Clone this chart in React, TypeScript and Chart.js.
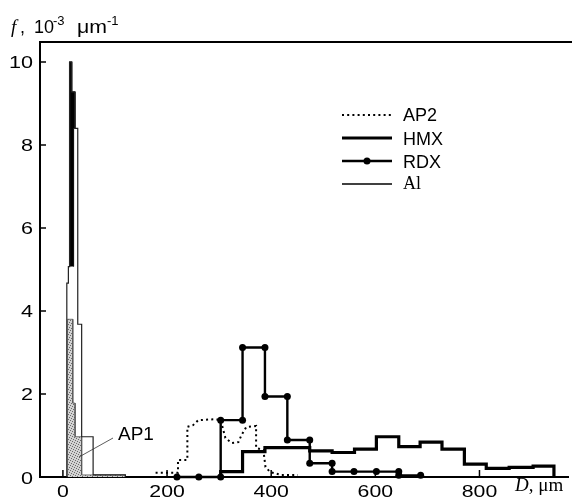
import React, { useEffect, useRef } from "react";
import { Chart, registerables } from "chart.js";

Chart.register(...registerables);

// Tick labels
const xTicks = [0, 200, 400, 600, 800];
const yTicks = [0, 2, 4, 6, 8, 10];

// Legend labels
const legendLabels = ["AP2", "HMX", "RDX", "Al"];

// AP1 (shaded histogram, fine fraction)
const ap1D = [8.5, 8.5, 19, 19, 23.4, 23.4, 36, 36, 120, 120];
const ap1F = [0, 3.8, 3.8, 1.78, 1.78, 0.97, 0.97, 0.05, 0.05, 0];

// Al (thin line histogram)
const alD = [7.5, 7.5, 10.5, 10.5, 13, 13, 17, 17, 23, 23, 28.5, 28.5, 36, 36, 58, 58, 120, 120];
const alF = [0, 4.67, 4.67, 5.07, 5.07, 10, 10, 9.28, 9.28, 8.4, 8.4, 3.68, 3.68, 0.97, 0.97, 0.05, 0.05, 0];

// HMX fine fraction (solid black block)
const hmxFineD = [12.5, 12.5, 17, 17, 23.4, 23.4, 20.5, 20.5];
const hmxFineF = [5.07, 10, 10, 9.28, 9.28, 8.4, 8.4, 5.07];

// HMX coarse fraction (thick line)
const hmxD = [303, 303, 345, 345, 388, 388, 474, 474, 517, 517, 560, 560, 602, 602, 645, 645, 686, 686, 728, 728, 771, 771, 813, 813, 857, 857, 903, 903, 943, 943];
const hmxF = [0, 0.13, 0.13, 0.61, 0.61, 0.71, 0.71, 0.63, 0.63, 0.59, 0.59, 0.67, 0.67, 0.97, 0.97, 0.73, 0.73, 0.84, 0.84, 0.67, 0.67, 0.31, 0.31, 0.21, 0.21, 0.23, 0.23, 0.26, 0.26, 0];

// RDX (line with markers)
const rdxD = [219, 261, 303, 303, 345, 345, 388, 388, 431, 431, 474, 474, 517, 517, 559, 602, 645, 645, 687];
const rdxF = [0, 0, 0, 1.37, 1.37, 3.12, 3.12, 1.94, 1.94, 0.89, 0.89, 0.33, 0.33, 0.13, 0.13, 0.13, 0.13, 0.04, 0.04];

// AP2 (dotted)
const ap2D = [178, 221, 221, 239, 239, 250, 260, 290, 303, 312, 324, 337, 343, 352, 371, 371, 385, 389, 398, 419, 451];
const ap2F = [0.1, 0.1, 0.41, 0.41, 1.21, 1.25, 1.37, 1.39, 1.37, 0.94, 0.82, 0.84, 1.01, 1.2, 1.23, 0.7, 0.65, 0.24, 0.12, 0.05, 0.05];

const pts = (d: number[], f: number[]) => d.map((v, i) => ({ x: v, y: f[i] }));

const SANS = '"Liberation Sans", Arial, sans-serif';
const SERIF = '"Liberation Serif", "Times New Roman", serif';

function makePattern(): CanvasPattern | string {
  const c = document.createElement("canvas");
  c.width = 5;
  c.height = 5;
  const g = c.getContext("2d");
  if (!g) return "#bbbbbb";
  g.fillStyle = "#d2d2d2";
  g.fillRect(0, 0, 5, 5);
  g.fillStyle = "#6a6a6a";
  [[0, 0], [2, 1], [4, 2], [1, 3], [3, 4]].forEach(([a, b]) => g.fillRect(a, b, 1, 1));
  const p = g.createPattern(c, "repeat");
  return p || "#bbbbbb";
}

function wideText(ctx: CanvasRenderingContext2D, s: string, x: number, y: number, align: CanvasTextAlign, sx: number) {
  ctx.save();
  ctx.translate(x, y);
  ctx.scale(sx, 1);
  ctx.textAlign = align;
  ctx.fillText(s, 0, 0);
  ctx.restore();
}

const decor = {
  id: "decor",
  afterDraw(chart: any) {
    const { ctx, chartArea, scales } = chart;
    const { left, top, bottom } = chartArea;
    const x = scales.x;
    const y = scales.y;
    ctx.save();
    ctx.strokeStyle = "#000";
    ctx.fillStyle = "#000";
    // top frame line
    ctx.lineWidth = 2;
    ctx.beginPath();
    ctx.moveTo(left - 1, top);
    ctx.lineTo(chart.width, top);
    ctx.stroke();
    // inward ticks
    ctx.lineWidth = 1.5;
    ctx.beginPath();
    yTicks.forEach((v) => {
      const py = y.getPixelForValue(v);
      ctx.moveTo(left, py);
      ctx.lineTo(left + 6, py);
    });
    xTicks.forEach((v) => {
      const px = x.getPixelForValue(v);
      ctx.moveTo(px, bottom);
      ctx.lineTo(px, bottom - 7);
    });
    ctx.stroke();

    // tick labels
    ctx.textBaseline = "alphabetic";
    ctx.font = "17px " + SANS;
    yTicks.forEach((v) => {
      const py = y.getPixelForValue(v);
      wideText(ctx, String(v), 33, py + 6.5, "right", 1.27);
    });
    xTicks.forEach((v) => {
      const px = x.getPixelForValue(v);
      wideText(ctx, String(v), px, 497, "center", 1.25);
    });

    // y title: f, 10^-3 μm^-1
    ctx.textAlign = "left";
    ctx.font = "italic 19px " + SERIF;
    ctx.fillText("f", 11, 33);
    ctx.font = "18px " + SANS;
    ctx.fillText(",", 20, 33);
    ctx.fillText("10", 34, 33);
    ctx.font = "13px " + SANS;
    ctx.fillText("-3", 53, 25);
    ctx.font = "19px " + SANS;
    wideText(ctx, "\u03bcm", 77, 33, "left", 1.12);
    ctx.font = "13px " + SANS;
    ctx.fillText("-1", 107, 25);

    // x title: D, μm
    ctx.textAlign = "left";
    ctx.font = "italic 19px " + SERIF;
    ctx.fillText("D", 515, 491);
    const dw = ctx.measureText("D").width;
    ctx.font = "19px " + SERIF;
    ctx.fillText(", \u03bcm", 515 + dw, 491);

    // AP1 label with leader
    ctx.font = "19px " + SANS;
    ctx.fillText("AP1", 118, 440);
    ctx.lineWidth = 0.8;
    ctx.strokeStyle = "#333";
    ctx.beginPath();
    ctx.moveTo(113, 438);
    ctx.lineTo(79, 457);
    ctx.stroke();

    // legend
    const lx0 = 342;
    const lx1 = 392;
    const ly = [115, 138, 161, 184];
    ctx.strokeStyle = "#000";
    ctx.lineWidth = 2;
    ctx.setLineDash([2, 3.2]);
    ctx.beginPath();
    ctx.moveTo(lx0, ly[0]);
    ctx.lineTo(lx1, ly[0]);
    ctx.stroke();
    ctx.setLineDash([]);
    ctx.lineWidth = 3.2;
    ctx.beginPath();
    ctx.moveTo(lx0, ly[1]);
    ctx.lineTo(lx1, ly[1]);
    ctx.stroke();
    ctx.lineWidth = 2.4;
    ctx.beginPath();
    ctx.moveTo(lx0, ly[2]);
    ctx.lineTo(lx1, ly[2]);
    ctx.stroke();
    ctx.beginPath();
    ctx.arc((lx0 + lx1) / 2, ly[2], 3.5, 0, Math.PI * 2);
    ctx.fill();
    ctx.lineWidth = 1.3;
    ctx.beginPath();
    ctx.moveTo(lx0, ly[3]);
    ctx.lineTo(lx1, ly[3]);
    ctx.stroke();

    ctx.textBaseline = "alphabetic";
    ctx.font = "18px " + SANS;
    ctx.fillText(legendLabels[0], 403, ly[0] + 6);
    ctx.fillText(legendLabels[1], 403, ly[1] + 7);
    ctx.fillText(legendLabels[2], 403, ly[2] + 7);
    ctx.font = "18px " + SERIF;
    ctx.fillText(legendLabels[3], 403, ly[3] + 5);
    ctx.restore();
  },
};

export default function App() {
  const ref = useRef<HTMLCanvasElement>(null);
  useEffect(() => {
    const canvas = ref.current;
    if (!canvas) return;
    const pattern = makePattern();
    const chart = new Chart(canvas, {
      type: "line",
      data: {
        datasets: [
          {
            label: "HMX",
            data: pts(hmxD, hmxF),
            borderColor: "#000",
            borderWidth: 3.2,
            pointRadius: 0,
            fill: false,
            tension: 0,
            borderJoinStyle: "miter",
            clip: false,
          },
          {
            label: "RDX",
            data: pts(rdxD, rdxF),
            borderColor: "#000",
            borderWidth: 2.4,
            pointRadius: 3.5,
            pointBackgroundColor: "#000",
            pointBorderColor: "#000",
            pointBorderWidth: 0,
            fill: false,
            tension: 0,
            borderJoinStyle: "miter",
            clip: false,
          },
          {
            label: "AP2",
            data: pts(ap2D, ap2F),
            borderColor: "#000",
            borderWidth: 2,
            borderDash: [2, 3.2],
            pointRadius: 0,
            fill: false,
            tension: 0,
          },
          {
            label: "Al",
            data: pts(alD, alF),
            borderColor: "#222",
            borderWidth: 1.2,
            pointRadius: 0,
            fill: false,
            tension: 0,
            borderJoinStyle: "miter",
          },
          {
            label: "HMX fine",
            data: pts(hmxFineD, hmxFineF),
            borderColor: "#000",
            borderWidth: 0.5,
            backgroundColor: "#000",
            pointRadius: 0,
            fill: "shape",
            tension: 0,
          },
          {
            label: "AP1",
            data: pts(ap1D, ap1F),
            borderColor: "#555",
            borderWidth: 0.8,
            backgroundColor: pattern as any,
            pointRadius: 0,
            fill: "origin",
            tension: 0,
          },
        ],
      },
      options: {
        animation: false,
        responsive: false,
        devicePixelRatio: 1,
        events: [],
        layout: { padding: { top: 42, left: 0, right: 0, bottom: 0 } },
        plugins: {
          legend: { display: false },
          tooltip: { enabled: false },
        },
        scales: {
          x: {
            type: "linear",
            min: -44,
            max: 970,
            grid: { display: false, drawTicks: false },
            border: { display: true, width: 2, color: "#000" },
            ticks: { display: false },
            afterBuildTicks: (s: any) => {
              s.ticks = xTicks.map((v) => ({ value: v }));
            },
            afterFit: (s: any) => {
              s.height = 25;
              s.paddingLeft = 0;
              s.paddingRight = 0;
            },
          },
          y: {
            type: "linear",
            min: 0,
            max: 10.48,
            grid: { display: false, drawTicks: false },
            border: { display: true, width: 2, color: "#000" },
            ticks: { display: false },
            afterBuildTicks: (s: any) => {
              s.ticks = yTicks.map((v) => ({ value: v }));
            },
            afterFit: (s: any) => {
              s.width = 40;
              s.paddingTop = 0;
              s.paddingBottom = 0;
            },
          },
        },
      } as any,
      plugins: [decor],
    });
    return () => chart.destroy();
  }, []);
  return (
    <div style={{ position: "absolute", left: 0, top: 0, width: 572, height: 502, background: "#fff" }}>
      <canvas ref={ref} width={572} height={502} style={{ display: "block", width: 572, height: 502 }} />
    </div>
  );
}
